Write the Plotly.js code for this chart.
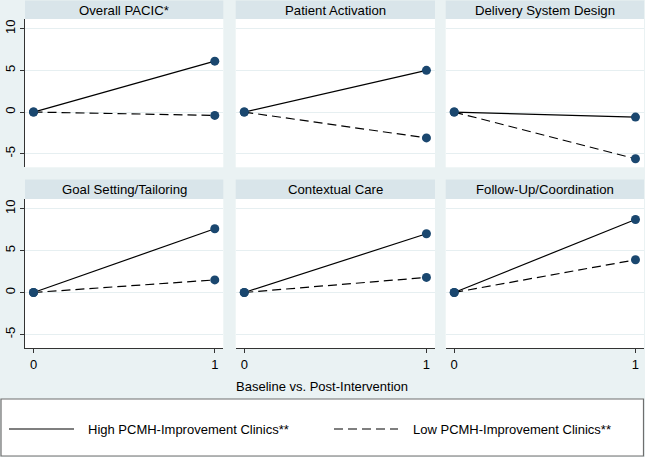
<!DOCTYPE html>
<html>
<head>
<meta charset="utf-8">
<script src="https://cdn.plot.ly/plotly-3.0.1.min.js"></script>
<style>html,body{margin:0;padding:0;background:#EAF2F3;}#chart{width:645px;height:457px;}</style>
</head>
<body>
<div id="chart"></div>
<script>
// ---- data ----
const panelTitles = ["Overall PACIC*", "Patient Activation", "Delivery System Design",
                     "Goal Setting/Tailoring", "Contextual Care", "Follow-Up/Coordination"];
const timePoints = [0, 1];
const highValues = [[0, 6.1], [0, 5.0], [0, -0.6], [0, 7.6], [0, 7.0], [0, 8.7]];
const lowValues  = [[0, -0.4], [0, -3.1], [0, -5.6], [0, 1.5], [0, 1.8], [0, 3.9]];
const seriesNames = ["High PCMH-Improvement Clinics**", "Low PCMH-Improvement Clinics**"];
const yTicks = [-5, 0, 5, 10];
const xTicks = [0, 1];
const xAxisTitle = "Baseline vs. Post-Intervention";

// ---- layout geometry (pixels) ----
const W = 645, H = 457;
const colPx = [[25, 223.3], [235.7, 435], [445.7, 644]];
const rowPx = [[19, 167.3], [199, 348]];   // plot region top/bottom
const stripPx = [[0.5, 19], [179.5, 199]];
const px2x = p => p / W;
const px2y = p => 1 - p / H;

const navy = "#1A476F";
const traces = [];
const layout = {
  width: W, height: H,
  margin: {l: 0, r: 0, t: 0, b: 0, pad: 0},
  paper_bgcolor: "#EAF2F3",
  plot_bgcolor: "#FFFFFF",
  showlegend: false,
  font: {family: "Liberation Sans, Arial, sans-serif", size: 13, color: "#000"},
  shapes: [],
  annotations: []
};

for (let i = 0; i < 6; i++) {
  const r = Math.floor(i / 3), c = i % 3;
  const ax = i === 0 ? "" : String(i + 1);
  const xa = "x" + ax, ya = "y" + ax;
  traces.push({
    x: timePoints, y: highValues[i], xaxis: xa, yaxis: ya, name: seriesNames[0],
    mode: "lines+markers", line: {color: "#000", width: 1.2},
    marker: {color: navy, size: 9}
  });
  traces.push({
    x: timePoints, y: lowValues[i], xaxis: xa, yaxis: ya, name: seriesNames[1],
    mode: "lines+markers", line: {color: "#000", width: 1.2, dash: "9px,5px"},
    marker: {color: navy, size: 9}
  });
  const leftCol = c === 0, bottomRow = r === 1;
  layout["xaxis" + ax] = {
    domain: [px2x(colPx[c][0]), px2x(colPx[c][1])],
    anchor: ya, range: [-0.047, 1.047],
    tickvals: xTicks, ticktext: xTicks.map(String),
    showticklabels: bottomRow, ticks: bottomRow ? "outside" : "", ticklen: 4,
    tickcolor: "#333", showline: bottomRow, linecolor: "#333", linewidth: 1,
    showgrid: false, zeroline: false, fixedrange: true,
    tickfont: {size: 13}
  };
  layout["yaxis" + ax] = {
    domain: [px2y(rowPx[r][1]), px2y(rowPx[r][0])],
    anchor: xa, range: [-6.62, 11.15],
    tickvals: yTicks, ticktext: yTicks.map(String), tickangle: -90,
    showticklabels: leftCol, ticks: leftCol ? "outside" : "", ticklen: 4,
    tickcolor: "#333", showline: leftCol, linecolor: "#333", linewidth: 1,
    showgrid: true, gridcolor: "#E6EFF1", gridwidth: 1, zeroline: false, fixedrange: true,
    tickfont: {size: 13}
  };
  // strip
  layout.shapes.push({
    type: "rect", xref: "paper", yref: "paper", layer: "below",
    x0: px2x(colPx[c][0]), x1: px2x(colPx[c][1]),
    y0: px2y(stripPx[r][1]), y1: px2y(stripPx[r][0]),
    fillcolor: "#D9E5EA", line: {width: 0}
  });
  layout.annotations.push({
    xref: "paper", yref: "paper", showarrow: false,
    x: px2x((colPx[c][0] + colPx[c][1]) / 2), y: px2y((stripPx[r][0] + stripPx[r][1]) / 2 + 0.5),
    xanchor: "center", yanchor: "middle",
    text: panelTitles[i], font: {size: 13.2, color: "#000"}
  });
}

// x-axis title
layout.annotations.push({
  xref: "paper", yref: "paper", showarrow: false,
  x: px2x(322), y: px2y(386.5), xanchor: "center", yanchor: "middle",
  text: xAxisTitle, font: {size: 13, color: "#000"}
});

// legend box
layout.shapes.push({
  type: "rect", xref: "paper", yref: "paper",
  x0: px2x(1), x1: px2x(643.5), y0: px2y(456), y1: px2y(399),
  fillcolor: "#FFFFFF", line: {color: "#6E6E6E", width: 1.2}
});
// legend samples
layout.shapes.push({
  type: "line", xref: "paper", yref: "paper",
  x0: px2x(9), x1: px2x(74), y0: px2y(429), y1: px2y(429),
  line: {color: "#000", width: 1.2}
});
layout.shapes.push({
  type: "line", xref: "paper", yref: "paper",
  x0: px2x(334), x1: px2x(398), y0: px2y(429), y1: px2y(429),
  line: {color: "#000", width: 1.2, dash: "9px,5px"}
});
layout.annotations.push({
  xref: "paper", yref: "paper", showarrow: false,
  x: px2x(85.5), y: px2y(429), xanchor: "left", yanchor: "middle",
  text: seriesNames[0], font: {size: 13, color: "#000"}
});
layout.annotations.push({
  xref: "paper", yref: "paper", showarrow: false,
  x: px2x(410.5), y: px2y(429), xanchor: "left", yanchor: "middle",
  text: seriesNames[1], font: {size: 13, color: "#000"}
});

Plotly.newPlot("chart", traces, layout, {displayModeBar: false, staticPlot: true});
</script>
</body>
</html>
